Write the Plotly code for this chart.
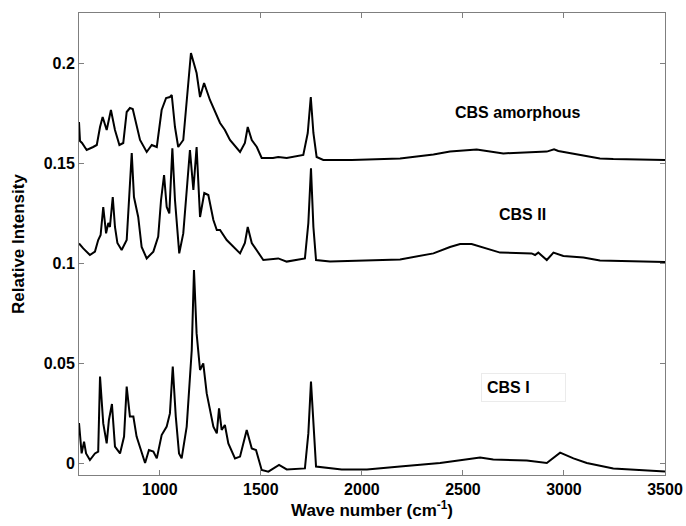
import plotly.graph_objects as go

# Wave numbers (cm^-1) and relative intensities
wn_amorph = [600, 605, 615, 638, 670, 688, 704, 717, 737, 758, 778, 800, 819, 836, 852, 866,
             902, 935, 960, 985, 1009, 1031, 1050, 1059, 1075, 1091, 1116, 1141, 1154, 1182,
             1199, 1219, 1248, 1298, 1322, 1347, 1397, 1421, 1435, 1455, 1480, 1504, 1560,
             1586, 1628, 1710, 1732, 1747, 1760, 1776, 1809, 1950, 2105, 2189, 2354, 2436,
             2568, 2700, 2915, 2951, 2972, 3079, 3178, 3244, 3500]
int_amorph = [0.1705, 0.1610, 0.1600, 0.1565, 0.1580, 0.1590, 0.1680, 0.1730, 0.1665, 0.1765,
              0.1665, 0.1590, 0.1600, 0.1755, 0.1775, 0.1770, 0.1615, 0.1555, 0.1590, 0.1580,
              0.1765, 0.1825, 0.1830, 0.1840, 0.1680, 0.1580, 0.1615, 0.1900, 0.2050, 0.1950,
              0.1830, 0.1900, 0.1815, 0.1700, 0.1665, 0.1615, 0.1555, 0.1600, 0.1680, 0.1615,
              0.1580, 0.1525, 0.1525, 0.1530, 0.1525, 0.1540, 0.1650, 0.1830, 0.1650, 0.1530,
              0.1515, 0.1515, 0.1520, 0.1523, 0.1543, 0.1557, 0.1568, 0.1548, 0.1557, 0.1568,
              0.1560, 0.1540, 0.1523, 0.1520, 0.1515]

wn_cbs2 = [600, 621, 654, 679, 695, 707, 720, 734, 745, 753, 767, 778, 790, 811, 836, 852, 861,
           872, 893, 910, 935, 968, 992, 1006, 1021, 1034, 1047, 1062, 1075, 1096, 1116, 1136,
           1149, 1166, 1182, 1199, 1220, 1240, 1265, 1282, 1298, 1331, 1364, 1397, 1421, 1435,
           1455, 1480, 1512, 1586, 1628, 1718, 1735, 1748, 1760, 1773, 1842, 2189, 2354, 2436,
           2486, 2543, 2684, 2840, 2857, 2873, 2915, 2948, 2997, 3096, 3178, 3500]
int_cbs2 = [0.1098, 0.1073, 0.1040, 0.1057, 0.1115, 0.1140, 0.1280, 0.1148, 0.1200, 0.1180,
            0.1330, 0.1180, 0.1100, 0.1065, 0.1115, 0.1400, 0.1550, 0.1330, 0.1230, 0.1080,
            0.1023, 0.1057, 0.1132, 0.1315, 0.1440, 0.1280, 0.1248, 0.1573, 0.1315, 0.1048,
            0.1148, 0.1400, 0.1565, 0.1365, 0.1580, 0.1230, 0.1350, 0.1340, 0.1215, 0.1165,
            0.1165, 0.1115, 0.1080, 0.1048, 0.1100, 0.1180, 0.1100, 0.1065, 0.1015, 0.1023,
            0.1007, 0.1023, 0.1200, 0.1473, 0.1180, 0.1015, 0.1007, 0.1018, 0.1048, 0.1080,
            0.1095, 0.1095, 0.1052, 0.1048, 0.1040, 0.1052, 0.1015, 0.1052, 0.1035, 0.1028,
            0.1012, 0.1005]

wn_cbs1 = [600, 613, 625, 635, 654, 679, 695, 704, 720, 737, 748, 763, 778, 803, 823, 836, 852,
           869, 885, 910, 927, 946, 968, 985, 1009, 1034, 1050, 1064, 1079, 1095, 1108, 1133,
           1158, 1169, 1182, 1199, 1215, 1232, 1265, 1282, 1293, 1306, 1322, 1339, 1372, 1397,
           1430, 1455, 1476, 1504, 1537, 1590, 1628, 1718, 1735, 1748, 1760, 1773, 1900, 2025,
           2189, 2387, 2585, 2650, 2816, 2915, 2981, 3047, 3113, 3244, 3500]
int_cbs1 = [0.0200, 0.0048, 0.0107, 0.0048, 0.0015, 0.0048, 0.0057, 0.0432, 0.0198, 0.0098,
            0.0215, 0.0295, 0.0082, 0.0048, 0.0132, 0.0382, 0.0232, 0.0232, 0.0132, 0.0048,
            0.0000, 0.0065, 0.0057, 0.0023, 0.0140, 0.0182, 0.0248, 0.0482, 0.0232, 0.0048,
            0.0023, 0.0182, 0.0565, 0.0965, 0.0648, 0.0465, 0.0498, 0.0348, 0.0182, 0.0148,
            0.0273, 0.0165, 0.0190, 0.0098, 0.0023, 0.0032, 0.0165, 0.0073, 0.0065, -0.0035,
            -0.0043, -0.0010, -0.0032, -0.0027, 0.0148, 0.0407, 0.0182, -0.0018, -0.0032,
            -0.0032, -0.0018, 0.0000, 0.0027, 0.0018, 0.0012, 0.0000, 0.0052, 0.0023, 0.0000,
            -0.0027, -0.0043]

labels = ["CBS amorphous", "CBS II", "CBS I"]
label_x = [2768, 2793, 2802]
label_y = [0.1755, 0.1245, 0.038]

x_ticks = [1000, 1500, 2000, 2500, 3000, 3500]
y_ticks = [0, 0.05, 0.1, 0.15, 0.2]
y_tick_text = ["0", "0.05", "0.1", "0.15", "0.2"]

FONT = "Liberation Sans, Arial, sans-serif"

fig = go.Figure()
for wx, iy in [(wn_amorph, int_amorph), (wn_cbs2, int_cbs2), (wn_cbs1, int_cbs1)]:
    fig.add_trace(go.Scatter(x=wx, y=iy, mode="lines",
                             line=dict(color="black", width=2), showlegend=False,
                             hoverinfo="skip"))

for i, (t, lx, ly) in enumerate(zip(labels, label_x, label_y)):
    if i == 2:
        fig.add_annotation(x=lx, y=ly, text="<b>%s</b>" % t, showarrow=False,
                           font=dict(family=FONT, size=16, color="black"),
                           bgcolor="white", bordercolor="#ebebeb", borderwidth=1,
                           borderpad=5, width=73, align="left")
    else:
        fig.add_annotation(x=lx, y=ly, text="<b>%s</b>" % t, showarrow=False,
                           font=dict(family=FONT, size=16, color="black"))

axis_common = dict(showline=True, linecolor="#7f7f7f", linewidth=1, mirror="ticks",
                   ticks="inside", ticklen=5, tickcolor="#7f7f7f", showgrid=False,
                   zeroline=False, automargin=False,
                   tickfont=dict(family=FONT, size=16, color="black"))

fig.update_xaxes(range=[600, 3500], tickvals=x_ticks,
                 ticktext=["<b>%d</b>" % v for v in x_ticks],
                 title=dict(text="<b>Wave number (cm<sup>-1</sup>)</b>",
                            font=dict(family=FONT, size=17, color="black"), standoff=4),
                 **axis_common)
fig.update_yaxes(range=[-0.006, 0.225], tickvals=y_ticks,
                 ticktext=["<b>%s</b>" % s for s in y_tick_text],
                 title=dict(text="<b>Relative Intensity</b>",
                            font=dict(family=FONT, size=17, color="black"), standoff=14),
                 **axis_common)

fig.update_layout(width=686, height=526, margin=dict(l=79, r=21, t=13, b=51),
                  plot_bgcolor="white", paper_bgcolor="white")

fig.write_html("out.html")
